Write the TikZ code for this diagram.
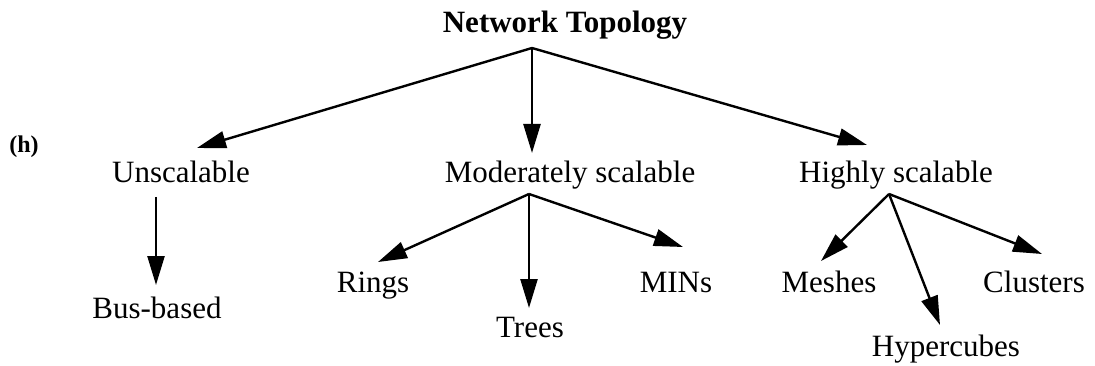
\documentclass[tikz,border=0pt]{standalone}
\usepackage{fontspec}
\setmainfont{Liberation Serif}
\usetikzlibrary{arrows.meta}
\begin{document}
\begin{tikzpicture}[x=1pt,y=-1pt,
  lbl/.style={inner sep=0pt, anchor=base, font=\fontsize{31}{36}\selectfont},
  arr/.style={line width=2.4pt, line join=round,
    -{Triangle[length=29pt,width=17pt]}},
  ]
\useasboundingbox (0,0) rectangle (1095,366);

% tree labels (positions are text baselines)
\node[lbl, font=\fontsize{31}{36}\selectfont\bfseries] (root) at (565,33) {Network Topology};
\node[lbl, font=\fontsize{24}{28}\selectfont\bfseries] (tag) at (24,153) {(h)};
\node[lbl] (uns)   at (181,183) {Unscalable};
\node[lbl] (mod)   at (570,183) {Moderately scalable};
\node[lbl] (high)  at (896,183) {Highly scalable};
\node[lbl] (bus)   at (157,318) {Bus-based};
\node[lbl] (rings) at (373,292) {Rings};
\node[lbl] (trees) at (530,337) {Trees};
\node[lbl] (mins)  at (676,292) {MINs};
\node[lbl] (mesh)  at (829,292) {Meshes};
\node[lbl] (hyper) at (946,356) {Hypercubes};
\node[lbl] (clus)  at (1034,292) {Clusters};

% branch points below each parent
\coordinate (j-root) at (532,48);
\coordinate (j-uns)  at (156,197);
\coordinate (j-mod)  at (529,194);
\coordinate (j-high) at (889,194);

% arrow tips above each child
\coordinate (t-uns)   at (197,148);
\coordinate (t-mod)   at (532,153);
\coordinate (t-high)  at (867,145);
\coordinate (t-bus)   at (156,285);
\coordinate (t-rings) at (378,262);
\coordinate (t-trees) at (529,308);
\coordinate (t-mins)  at (683,247);
\coordinate (t-mesh)  at (821,261);
\coordinate (t-hyper) at (940,325);
\coordinate (t-clus)  at (1042,254);

\draw[arr] (j-root) -- (t-uns);
\draw[arr] (j-root) -- (t-mod);
\draw[arr] (j-root) -- (t-high);
\draw[arr] (j-uns)  -- (t-bus);
\draw[arr] (j-mod)  -- (t-rings);
\draw[arr] (j-mod)  -- (t-trees);
\draw[arr] (j-mod)  -- (t-mins);
\draw[arr] (j-high) -- (t-mesh);
\draw[arr] (j-high) -- (t-hyper);
\draw[arr] (j-high) -- (t-clus);
\end{tikzpicture}
\end{document}
